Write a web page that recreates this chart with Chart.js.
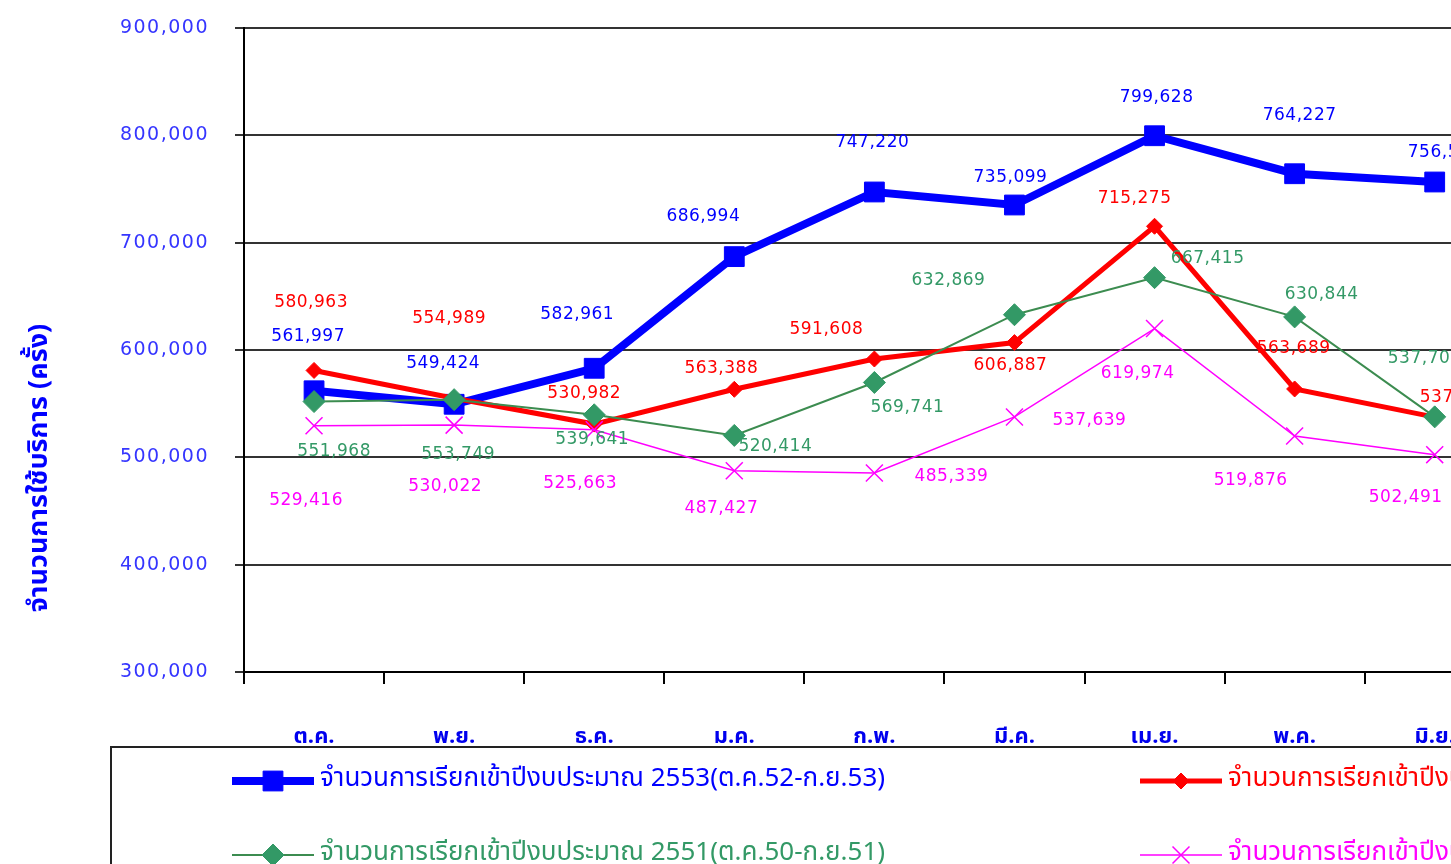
<!DOCTYPE html>
<html>
<head>
<meta charset="utf-8">
<script src="https://cdn.jsdelivr.net/npm/chart.js@4.4.0/dist/chart.umd.min.js"></script>
<style>
    html, body { margin: 0; padding: 0; overflow: hidden; background: #fff; }
    #wrap { width: 2000px; height: 900px; }
</style>
</head>
<body>
<div id="wrap"><canvas id="calls-chart" width="2000" height="900"></canvas></div>
<script>
'use strict';

var monthLabels = ['ต.ค.', 'พ.ย.', 'ธ.ค.', 'ม.ค.', 'ก.พ.', 'มี.ค.', 'เม.ย.', 'พ.ค.', 'มิ.ย.', 'ก.ค.', 'ส.ค.', 'ก.ย.'];

// only Oct - Jun is visible in the picture, the rest of the year is left empty
var calls2553 = [561997, 549424, 582961, 686994, 747220, 735099, 799628, 764227, 756520, null, null, null];
var calls2552 = [580963, 554989, 530982, 563388, 591608, 606887, 715275, 563689, 537420, null, null, null];
var calls2551 = [551968, 553749, 539641, 520414, 569741, 632869, 667415, 630844, 537700, null, null, null];
var calls2550 = [529416, 530022, 525663, 487427, 485339, 537639, 619974, 519876, 502491, null, null, null];

var seriesNames = [
    'จำนวนการเรียกเข้าปีงบประมาณ 2553(ต.ค.52-ก.ย.53)',
    'จำนวนการเรียกเข้าปีงบประมาณ 2552(ต.ค.51-ก.ย.52)',
    'จำนวนการเรียกเข้าปีงบประมาณ 2551(ต.ค.50-ก.ย.51)',
    'จำนวนการเรียกเข้าปีงบประมาณ 2550(ต.ค.49-ก.ย.50)',
];
var yTitle = 'จำนวนการใช้บริการ (ครั้ง)';

// where each value label sits relative to its point, [dx, dy] in px
var nudge2553 = [[-6, -54], [-11, -41], [-17, -54], [-31, -40], [-2, -49], [-4, -27], [2, -38], [5, -58], [10, -29]];
var nudge2552 = [[-3, -68], [-5, -80], [-10, -31], [-13, -21], [-48, -29], [-4, 23], [-20, -28], [-1, -40], [22, -20]];
var nudge2551 = [[20, 50], [4, 55], [-2, 25], [41, 11], [33, 25], [-66, -34], [53, -19], [27, -22], [-10, -58]];
var nudge2550 = [[-8, 75], [-9, 61], [-14, 54], [-13, 38], [77, 4], [75, 4], [-17, 45], [-44, 45], [-29, 43]];

var thaiFont = "'Noto Sans Thai', 'Noto Sans Thai Looped', Garuda, Loma, Tahoma, 'Noto Sans', sans-serif";
var numFont = "'DejaVu Sans', Verdana, sans-serif";

var valueLabels = {
    id: 'valueLabels',
    afterDatasetsDraw: function (chart) {
        var ctx = chart.ctx;
        ctx.save();
        ctx.font = '17px ' + numFont;
        ctx.letterSpacing = '0.5px';
        ctx.textAlign = 'center';
        ctx.textBaseline = 'middle';
        chart.data.datasets.forEach(function (ds, i) {
            var meta = chart.getDatasetMeta(i);
            meta.data.forEach(function (pt, j) {
                var v = ds.data[j];
                if (v === null || v === undefined) return;
                var n = ds.labelNudge[j] || [0, 0];
                ctx.fillStyle = ds.labelColor;
                ctx.fillText(v.toLocaleString('en-US'), pt.x + n[0], pt.y + n[1]);
            });
        });
        ctx.restore();
    },
};

// excel style legend: framed box, two columns
var boxLegend = {
    id: 'boxLegend',
    afterDraw: function (chart) {
        var ctx = chart.ctx;
        var cols = [232, 1140];
        var rows = [781, 855];
        ctx.save();
        ctx.strokeStyle = '#222';
        ctx.lineWidth = 2;
        ctx.strokeRect(111, 747, 1790, 200);
        chart.data.datasets.forEach(function (ds, i) {
            var x = cols[i % 2];
            var y = rows[Math.floor(i / 2)];
            ctx.strokeStyle = ds.borderColor;
            ctx.lineWidth = ds.borderWidth;
            ctx.beginPath();
            ctx.moveTo(x, y);
            ctx.lineTo(x + 82, y);
            ctx.stroke();
            ctx.fillStyle = ds.pointBackgroundColor;
            ctx.strokeStyle = ds.pointBorderColor;
            ctx.lineWidth = ds.pointBorderWidth;
            Chart.helpers.drawPoint(ctx, {
                pointStyle: ds.pointStyle,
                radius: ds.pointRadius,
                borderWidth: ds.pointBorderWidth,
                rotation: 0,
            }, x + 41, y);
            ctx.fillStyle = ds.labelColor;
            ctx.font = '26px ' + thaiFont;
            ctx.textAlign = 'left';
            ctx.textBaseline = 'middle';
            ctx.fillText(ds.label, x + 88, y);
        });
        ctx.restore();
    },
};

// y axis title sits lower than the axis middle in the original
var sideTitle = {
    id: 'sideTitle',
    afterDraw: function (chart) {
        var ctx = chart.ctx;
        ctx.save();
        ctx.translate(42, 468);
        ctx.rotate(-Math.PI / 2);
        ctx.font = 'bold 27px ' + thaiFont;
        ctx.fillStyle = '#0000ff';
        ctx.textAlign = 'center';
        ctx.textBaseline = 'middle';
        ctx.fillText(yTitle, 0, 0);
        ctx.restore();
    },
};

// the y tick numbers are wide in the original, add some spacing
var spacedTicks = {
    id: 'spacedTicks',
    afterUpdate: function (chart) {
        var y = chart.scales.y;
        if (!y || y._spaced) return;
        var orig = y.drawLabels;
        y.drawLabels = function (area) {
            chart.ctx.letterSpacing = '1.5px';
            orig.call(this, area);
            chart.ctx.letterSpacing = '0px';
        };
        y._spaced = true;
    },
};

var callsChart = new Chart(document.getElementById('calls-chart'), {
    type: 'line',
    data: {
        labels: monthLabels,
        datasets: [
            {
                label: seriesNames[0],
                data: calls2553,
                labelNudge: nudge2553,
                labelColor: '#0000ff',
                borderColor: '#0000ff',
                borderWidth: 8,
                pointStyle: 'rect',
                pointRadius: 14,
                pointBorderWidth: 1,
                pointBackgroundColor: '#0000ff',
                pointBorderColor: '#0000ff',
                order: 4,
            },
            {
                label: seriesNames[1],
                data: calls2552,
                labelNudge: nudge2552,
                labelColor: '#ff0000',
                borderColor: '#ff0000',
                borderWidth: 5,
                pointStyle: 'rectRot',
                pointRadius: 8,
                pointBorderWidth: 1,
                pointBackgroundColor: '#ff0000',
                pointBorderColor: '#ff0000',
                order: 3,
            },
            {
                label: seriesNames[2],
                data: calls2551,
                labelNudge: nudge2551,
                labelColor: '#339966',
                borderColor: '#3c8c50',
                borderWidth: 2,
                pointStyle: 'rectRot',
                pointRadius: 11,
                pointBorderWidth: 1,
                pointBackgroundColor: '#339966',
                pointBorderColor: '#339966',
                order: 2,
            },
            {
                label: seriesNames[3],
                data: calls2550,
                labelNudge: nudge2550,
                labelColor: '#ff00ff',
                borderColor: '#ff00ff',
                borderWidth: 1.5,
                pointStyle: 'crossRot',
                pointRadius: 12,
                pointBorderWidth: 1.5,
                pointBackgroundColor: '#ff00ff',
                pointBorderColor: '#ff00ff',
                order: 1,
            },
        ],
    },
    options: {
        responsive: false,
        animation: false,
        layout: {
            padding: { top: 28, right: 75, bottom: 148, left: 0 },
        },
        elements: {
            line: { tension: 0 },
        },
        scales: {
            x: {
                offset: true,
                afterFit: function (scale) { scale.height = 80; },
                grid: {
                    offset: true,
                    drawOnChartArea: false,
                    drawTicks: true,
                    tickLength: 12,
                    color: '#000',
                    lineWidth: 2,
                },
                border: { color: '#000', width: 2 },
                ticks: {
                    padding: 41,
                    color: '#0000ee',
                    maxRotation: 0,
                    autoSkip: false,
                    font: { family: thaiFont, size: 22, weight: 'bold' },
                },
            },
            y: {
                min: 300000,
                max: 900000,
                afterFit: function (scale) {
                    scale.width = 244;
                    scale.paddingTop = 0;
                    scale.paddingBottom = 0;
                },
                grid: {
                    color: '#333',
                    lineWidth: 2,
                    tickLength: 9,
                },
                border: { color: '#000', width: 2 },
                ticks: {
                    stepSize: 100000,
                    padding: 26,
                    color: '#3535ff',
                    font: { family: numFont, size: 19 },
                    callback: function (v) { return v.toLocaleString('en-US'); },
                },
            },
        },
        plugins: {
            legend: { display: false },
            tooltip: { enabled: false },
        },
    },
    plugins: [valueLabels, boxLegend, sideTitle, spacedTicks],
});
</script>
</body>
</html>
